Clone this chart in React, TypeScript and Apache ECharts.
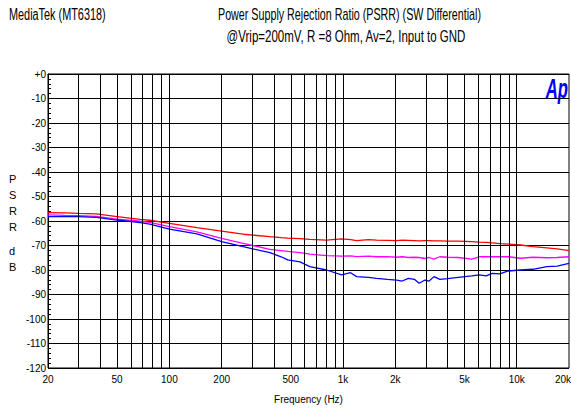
import React, { useEffect, useRef } from "react";
import * as echarts from "echarts";

const freqs = [20, 25, 30, 38, 50, 68, 77, 100, 144, 200, 266, 379, 440, 480, 565, 644, 803, 981, 1105, 1197, 1400, 1560, 1800, 2033, 2190, 2375, 2575, 2740, 2960, 3130, 3340, 3610, 4000, 4610, 5500, 6100, 6670, 7240, 8000, 8930, 10500, 12400, 14900, 17100, 20000];

const redDb = [-56.6, -56.7, -56.9, -57.1, -58.2, -59.3, -59.7, -61.0, -62.7, -64.1, -65.4, -66.4, -66.8, -67.0, -67.2, -67.5, -67.8, -67.3, -67.6, -68.0, -67.6, -67.8, -67.9, -68.0, -67.8, -67.9, -68.0, -68.1, -68.0, -68.0, -68.1, -68.1, -68.2, -68.2, -68.4, -68.6, -68.7, -68.9, -69.2, -69.4, -69.8, -70.5, -71.0, -71.4, -72.1];

const magentaDb = [-57.5, -57.7, -57.8, -58.1, -59.2, -60.1, -60.6, -62.3, -64.4, -67.1, -69.1, -71.6, -72.1, -72.4, -72.9, -73.5, -74.1, -74.3, -74.2, -74.5, -74.3, -74.6, -74.5, -74.8, -74.6, -74.9, -74.8, -74.9, -75.3, -74.9, -75.6, -74.6, -74.8, -74.9, -75.6, -74.6, -74.6, -74.6, -74.6, -74.6, -75.2, -74.8, -75.0, -74.9, -74.6];

const blueDb = [-58.2, -58.2, -58.2, -58.5, -59.6, -60.7, -61.3, -63.3, -65.3, -68.4, -70.5, -72.9, -74.6, -75.9, -76.7, -78.6, -80.0, -82.0, -81.1, -82.7, -83.0, -83.4, -83.8, -84.1, -84.5, -83.4, -83.8, -85.4, -84.1, -84.5, -82.7, -83.8, -83.5, -83.0, -82.4, -82.0, -82.4, -81.4, -81.6, -80.4, -80.0, -79.7, -78.6, -78.4, -77.3];

const gridFreqs = [30, 40, 50, 60, 70, 80, 90, 100, 200, 300, 400, 500, 600, 700, 800, 900, 1000, 2000, 3000, 4000, 5000, 6000, 7000, 8000, 9000, 10000];
const xTickFreqs = [20, 50, 100, 200, 500, 1000, 2000, 5000, 10000, 20000];

const titleLeft = "MediaTek (MT6318)";
const titleMain = "Power Supply Rejection Ratio (PSRR) (SW Differential)";
const titleSub = "@Vrip=200mV, R =8 Ohm, Av=2, Input to GND";

const FONT = "'Liberation Sans', Arial, sans-serif";

function fmtFreq(f: number): string {
  return f >= 1000 ? f / 1000 + "k" : String(f);
}

export default function App() {
  const ref = useRef<HTMLDivElement>(null);
  useEffect(() => {
    const chart = echarts.init(ref.current!, null, { renderer: "svg" });
    const allMarks = Array.from(new Set([...gridFreqs, ...xTickFreqs])).sort((a, b) => a - b);
    const titleFont = "16px 'Liberation Sans', Arial, sans-serif";
    chart.setOption({
      animation: false,
      backgroundColor: "#fff",
      textStyle: { fontFamily: FONT },
      graphic: [
        { type: "text", x: 9, y: 15, scaleX: 0.68, style: { text: titleLeft, font: titleFont, fill: "#000", textAlign: "left", textVerticalAlign: "middle" } },
        { type: "text", x: 349.5, y: 15, scaleX: 0.67, style: { text: titleMain, font: titleFont, fill: "#000", textAlign: "center", textVerticalAlign: "middle" } },
        { type: "text", x: 346, y: 36, scaleX: 0.72, style: { text: titleSub, font: titleFont, fill: "#000", textAlign: "center", textVerticalAlign: "middle" } },
        { type: "text", x: 9, y: 171, style: { text: "P\nS\nR\nR", font: "11px 'Liberation Sans', Arial, sans-serif", lineHeight: 16, fill: "#000" } },
        { type: "text", x: 9, y: 243, style: { text: "d\nB", font: "11px 'Liberation Sans', Arial, sans-serif", lineHeight: 16, fill: "#000" } },
        { type: "text", x: 568, y: 89, scaleX: 0.62, style: { text: "Ap", font: "italic bold 27px 'Liberation Sans', Arial, sans-serif", fill: "#0000ff", textAlign: "right", textVerticalAlign: "middle" } },
      ],
      grid: { left: 48, right: 2, top: 74, bottom: 49, show: true, borderColor: "#000", borderWidth: 1 },
      xAxis: {
        type: "log",
        logBase: 10,
        min: 20,
        max: 20000,
        axisLine: { show: true, lineStyle: { color: "#000" } },
        axisTick: { show: false },
        axisLabel: { show: false },
        splitLine: { show: false },
        name: "Frequency (Hz)",
        nameLocation: "middle",
        nameGap: 26,
        nameTextStyle: { fontSize: 10, color: "#000", fontFamily: FONT },
      },
      yAxis: {
        type: "value",
        min: -120,
        max: 0,
        interval: 10,
        axisLine: { show: true, lineStyle: { color: "#000" } },
        axisTick: { show: true, inside: true, length: 5, lineStyle: { color: "#000" } },
        minorTick: { show: true, splitNumber: 5, length: 3, lineStyle: { color: "#000" } },
        axisLabel: { fontSize: 10, color: "#000", margin: 2, fontFamily: FONT, formatter: (v: number) => (v === 0 ? "+0" : String(v)) },
        splitLine: { show: true, lineStyle: { color: "#000", width: 1 } },
      },
      series: [
        {
          type: "line",
          data: [],
          silent: true,
          markLine: {
            silent: true,
            symbol: "none",
            animation: false,
            lineStyle: { color: "#000", type: "solid", width: 1 },
            data: allMarks.map((f) => ({
              xAxis: f,
              lineStyle: { color: "#000", type: "solid", width: f === 20 || f === 20000 ? 0 : 1 },
              label: xTickFreqs.includes(f)
                ? { show: true, position: "start", formatter: fmtFreq(f), fontSize: 10, color: "#000", fontFamily: FONT, distance: 6, offset: f === 20000 ? [-6, 0] : [0, 0] }
                : { show: false },
            })),
          },
        },
        { type: "line", data: freqs.map((f, i) => [f, redDb[i]]), showSymbol: false, lineStyle: { color: "#ff0000", width: 1.3 }, itemStyle: { color: "#ff0000" } },
        { type: "line", data: freqs.map((f, i) => [f, magentaDb[i]]), showSymbol: false, lineStyle: { color: "#ff00ff", width: 1.3 }, itemStyle: { color: "#ff00ff" } },
        { type: "line", data: freqs.map((f, i) => [f, blueDb[i]]), showSymbol: false, lineStyle: { color: "#0000ff", width: 1.3 }, itemStyle: { color: "#0000ff" } },
      ],
    });
    return () => chart.dispose();
  }, []);
  return <div ref={ref} style={{ width: 571, height: 417, position: "absolute", left: 0, top: 0 }} />;
}
